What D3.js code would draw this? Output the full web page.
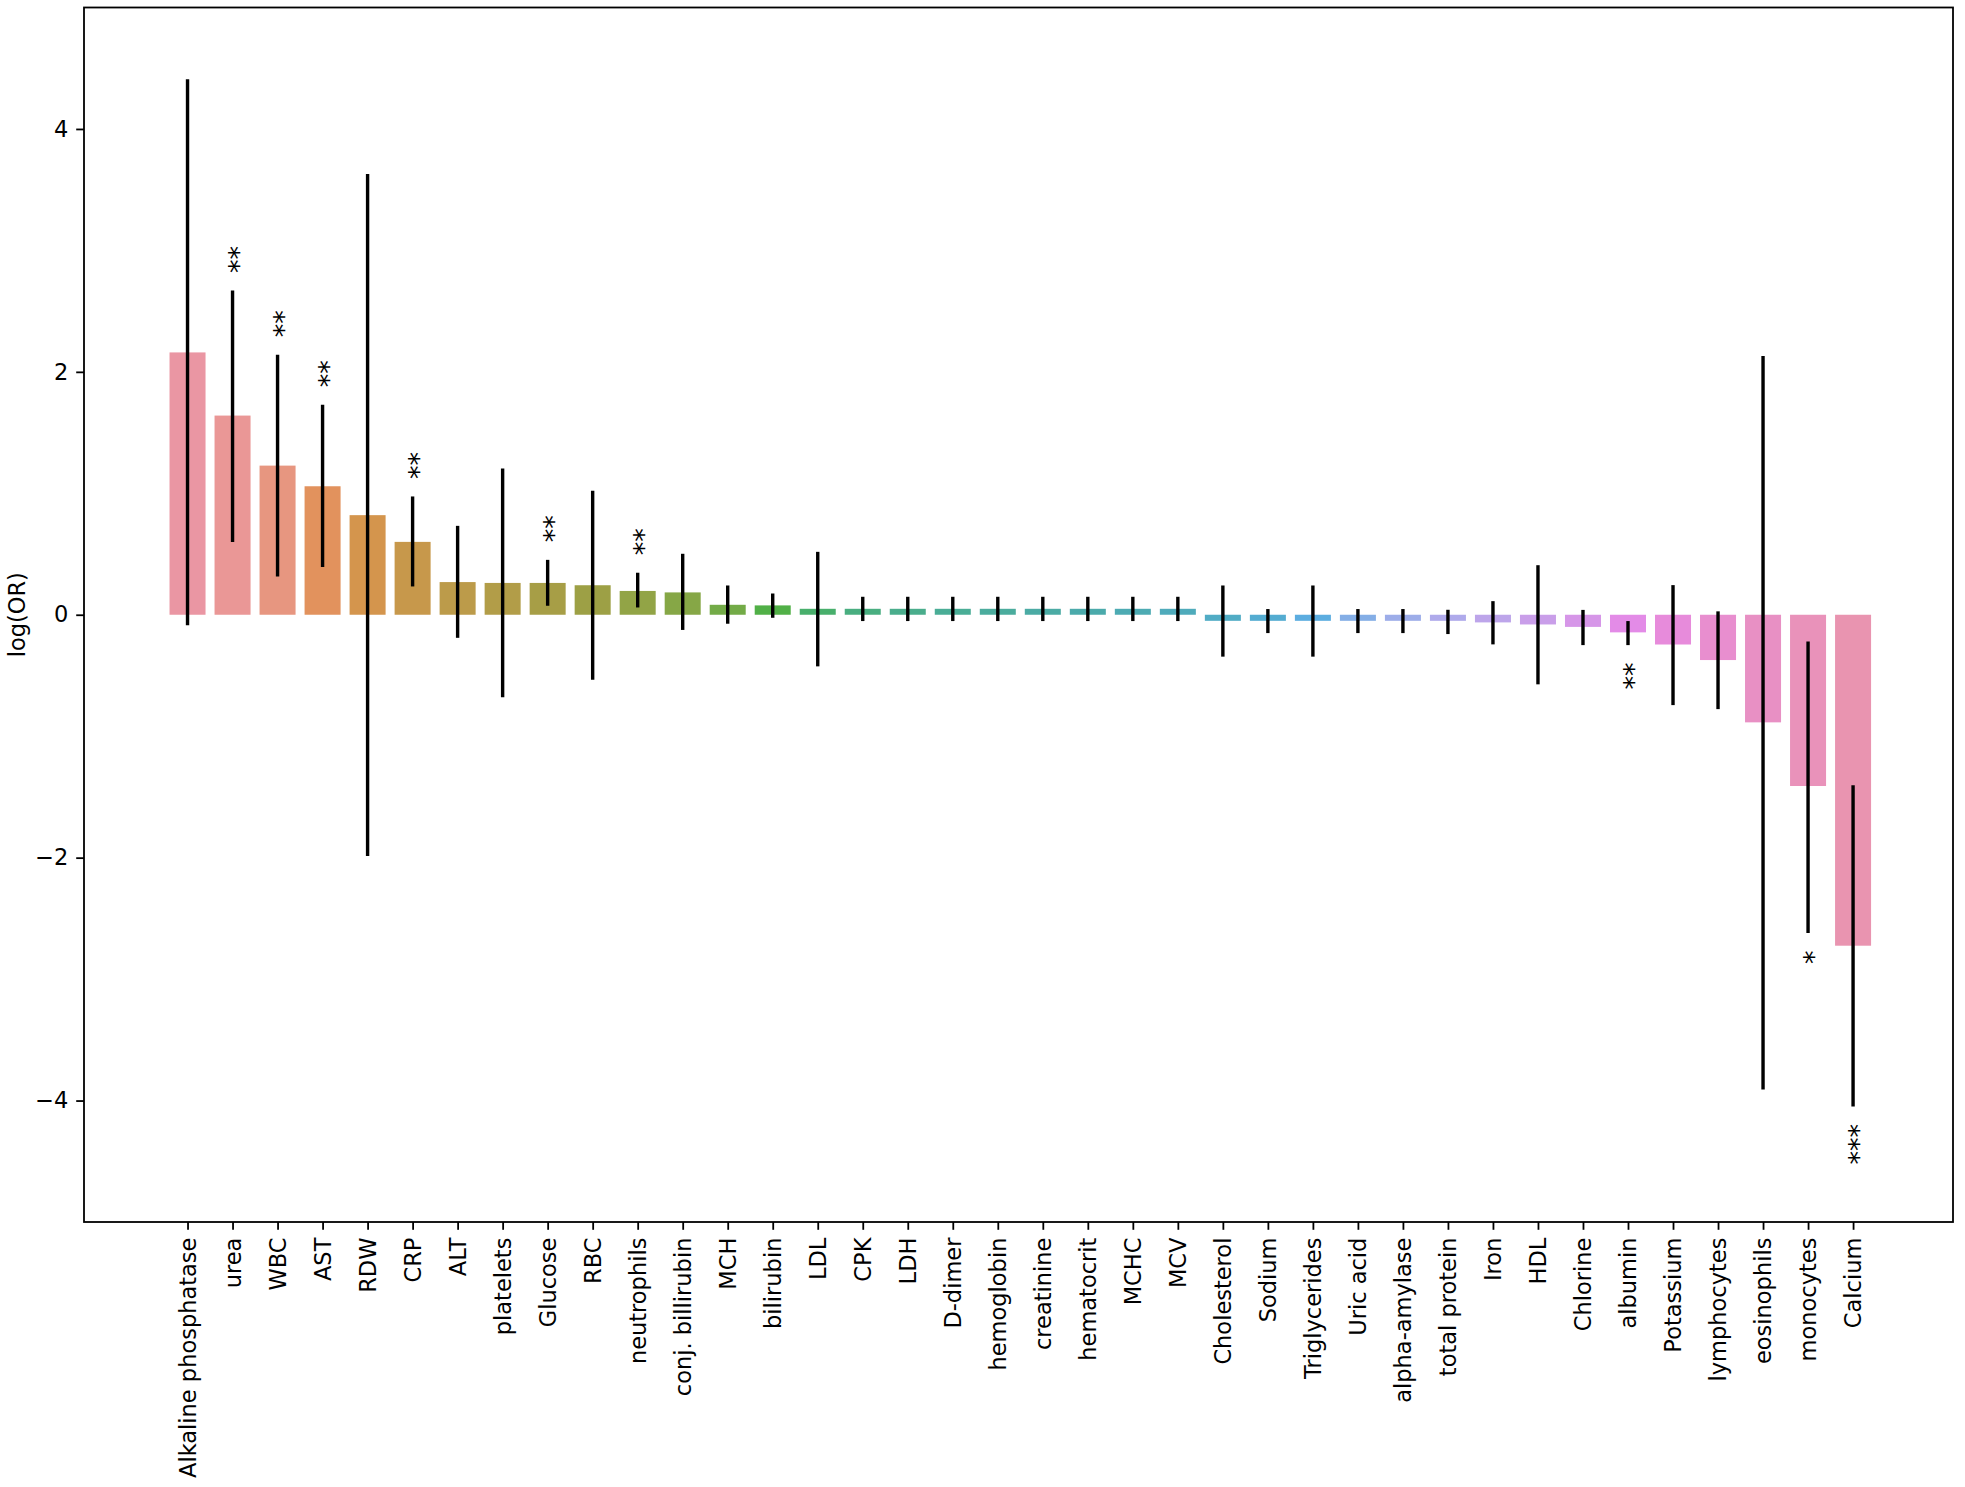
<!DOCTYPE html>
<html>
<head>
<meta charset="utf-8">
<script src="https://cdn.jsdelivr.net/npm/d3@7"></script>
<style>
  body { margin: 0; background: #ffffff; }
  svg { display: block; font-family: "DejaVu Sans", sans-serif; }
</style>
</head>
<body>
<div id="chart"></div>
<script>
// labels, in plotted order
const categories = [
  "Alkaline phosphatase", "urea", "WBC", "AST", "RDW", "CRP", "ALT", "platelets",
  "Glucose", "RBC", "neutrophils", "conj. billirubin", "MCH", "bilirubin", "LDL",
  "CPK", "LDH", "D-dimer", "hemoglobin", "creatinine", "hematocrit", "MCHC", "MCV",
  "Cholesterol", "Sodium", "Triglycerides", "Uric acid", "alpha-amylase",
  "total protein", "Iron", "HDL", "Chlorine", "albumin", "Potassium",
  "lymphocytes", "eosinophils", "monocytes", "Calcium"
];

// log(OR) per category
const logOR = [
  2.16, 1.64, 1.228, 1.058, 0.82, 0.60, 0.269, 0.262,
  0.262, 0.243, 0.196, 0.184, 0.082, 0.077, 0.049,
  0.049, 0.049, 0.049, 0.049, 0.049, 0.049, 0.049, 0.049,
  -0.05, -0.05, -0.05, -0.05, -0.05,
  -0.05, -0.063, -0.08, -0.10, -0.145, -0.245,
  -0.373, -0.886, -1.41, -2.725
];

// confidence interval bounds
const ciLow = [
  -0.087, 0.60, 0.315, 0.394, -1.987, 0.233, -0.19, -0.68,
  0.074, -0.535, 0.06, -0.125, -0.074, -0.025, -0.425,
  -0.052, -0.052, -0.052, -0.052, -0.052, -0.052, -0.052, -0.052,
  -0.345, -0.151, -0.345, -0.151, -0.151,
  -0.159, -0.244, -0.573, -0.25, -0.25, -0.744,
  -0.777, -3.91, -2.62, -4.05
];
const ciHigh = [
  4.41, 2.67, 2.14, 1.73, 3.63, 0.974, 0.732, 1.205,
  0.452, 1.022, 0.346, 0.502, 0.241, 0.175, 0.518,
  0.148, 0.148, 0.148, 0.148, 0.148, 0.148, 0.148, 0.148,
  0.241, 0.047, 0.241, 0.047, 0.047,
  0.041, 0.112, 0.408, 0.04, -0.052, 0.244,
  0.028, 2.13, -0.22, -1.404
];

// significance marks
const stars = [
  "", "**", "**", "**", "", "**", "", "",
  "**", "", "**", "", "", "", "",
  "", "", "", "", "", "", "", "",
  "", "", "", "", "",
  "", "", "", "", "**", "",
  "", "", "*", "***"
];

const yTicks = [-4, -2, 0, 2, 4];

// ---- husl palette (seaborn style: l=.7, then desaturated to .75) ----
const M = [[3.2406, -1.5372, -0.4986], [-0.9689, 1.8758, 0.0415], [0.0557, -0.2040, 1.0570]];
const refU = 0.19784, refV = 0.46834, labE = 0.008856, labK = 903.3;

function maxChroma(L, H) {
  const hrad = H / 180 * Math.PI;
  const sinH = Math.sin(hrad), cosH = Math.cos(hrad);
  const sub1 = Math.pow(L + 16, 3) / 1560896;
  const sub2 = sub1 > labE ? sub1 : L / labK;
  let result = Infinity;
  M.forEach(([m1, m2, m3]) => {
    const tp = (0.99915 * m1 + 1.05122 * m2 + 1.14460 * m3) * sub2;
    const rb = 0.86330 * m3 - 0.17266 * m2;
    const lb = 0.12949 * m3 - 0.38848 * m1;
    const bt = (rb * sinH + lb * cosH) * sub2;
    [0, 1].forEach(t => {
      const C = L * (tp - 1.05122 * t) / (bt + 0.17266 * sinH * t);
      if (C > 0 && C < result) result = C;
    });
  });
  return result;
}

function huslToRgb(H, S, L) {
  const C = maxChroma(L, H) / 100 * S;
  const hrad = H / 180 * Math.PI;
  const U = C * Math.cos(hrad), V = C * Math.sin(hrad);
  const t = (L + 16) / 116;
  const varY = Math.pow(t, 3) > labE ? Math.pow(t, 3) : (116 * t - 16) / labK;
  const varU = U / (13 * L) + refU;
  const varV = V / (13 * L) + refV;
  const Y = varY;
  const X = -(9 * Y * varU) / ((varU - 4) * varV - varU * varV);
  const Z = (9 * Y - 15 * varV * Y - varV * X) / (3 * varV);
  const rgb = M.map(r => {
    const c = r[0] * X + r[1] * Y + r[2] * Z;
    const v = c <= 0.0031308 ? 12.92 * c : 1.055 * Math.pow(c, 1 / 2.4) - 0.055;
    return Math.max(0, Math.min(1, v)) * 255;
  });
  return d3.rgb(rgb[0], rgb[1], rgb[2]);
}

const n = categories.length;
const palette = d3.range(n).map(i => {
  const h = ((i / n + 0.01) % 1) * 359;
  const c = d3.hsl(huslToRgb(h, 0.9 * 99, 0.7 * 99));
  c.s *= 0.75;
  return c.formatHex();
});

// ---- layout ----
const width = 1965, height = 1487;
const axLeft = 84, axRight = 1953, axTop = 7.5, axBottom = 1222;
const fontSize = 22.5;
const starSize = 27;
const tickLen = 7.8;

const svg = d3.select('#chart').append('svg')
  .attr('width', width)
  .attr('height', height);

svg.append('rect').attr('width', width).attr('height', height).attr('fill', '#ffffff');

const x = d3.scaleLinear()
  .domain([-2.3, n - 1 + 2.22])
  .range([axLeft, axRight]);

const y = d3.scaleLinear()
  .domain([-5, 5])
  .range([axBottom, axTop]);

const barW = x(0.8) - x(0);

// bars
svg.append('g')
  .selectAll('rect')
  .data(logOR)
  .join('rect')
  .attr('x', (d, i) => x(i) - barW / 2)
  .attr('width', barW)
  .attr('y', d => y(Math.max(0, d)))
  .attr('height', d => Math.abs(y(d) - y(0)))
  .attr('fill', (d, i) => palette[i]);

// error bars
svg.append('g')
  .selectAll('line')
  .data(logOR)
  .join('line')
  .attr('x1', (d, i) => x(i))
  .attr('x2', (d, i) => x(i))
  .attr('y1', (d, i) => y(ciLow[i]))
  .attr('y2', (d, i) => y(ciHigh[i]))
  .attr('stroke', '#000000')
  .attr('stroke-width', 3.4);

// significance marks, written vertically
const gap = 17.5;
svg.append('g')
  .selectAll('text')
  .data(stars.map((s, i) => ({ s, i })).filter(d => d.s))
  .join('text')
  .attr('transform', d => {
    const yy = logOR[d.i] > 0 ? y(ciHigh[d.i]) - gap : y(ciLow[d.i]) + gap;
    return `translate(${x(d.i)},${yy}) rotate(-90)`;
  })
  .attr('text-anchor', d => logOR[d.i] > 0 ? 'start' : 'end')
  .attr('dy', '0.57em')
  .style('font-size', starSize + 'px')
  .attr('fill', '#000000')
  .text(d => d.s);

// frame
svg.append('rect')
  .attr('x', axLeft).attr('y', axTop)
  .attr('width', axRight - axLeft).attr('height', axBottom - axTop)
  .attr('fill', 'none')
  .attr('stroke', '#000000')
  .attr('stroke-width', 1.8);

// y axis
const yAxis = svg.append('g')
  .attr('transform', `translate(${axLeft},0)`)
  .call(d3.axisLeft(y)
    .tickValues(yTicks)
    .tickSize(tickLen)
    .tickPadding(7.8)
    .tickFormat(d => d < 0 ? '\u2212' + Math.abs(d) : String(d)));
yAxis.select('.domain').remove();
yAxis.selectAll('line').attr('stroke-width', 1.8);
yAxis.selectAll('text')
  .style('font-size', fontSize + 'px')
  .style('font-family', '"DejaVu Sans", sans-serif')
  .attr('fill', '#000000');

// x axis
const xAxis = svg.append('g')
  .attr('transform', `translate(0,${axBottom})`)
  .call(d3.axisBottom(x)
    .tickValues(d3.range(n))
    .tickSize(tickLen)
    .tickFormat(i => categories[i]));
xAxis.select('.domain').remove();
xAxis.selectAll('line').attr('stroke-width', 1.8);
xAxis.selectAll('text')
  .attr('y', 0)
  .attr('dy', '0.35em')
  .attr('transform', `translate(0,${tickLen * 2}) rotate(-90)`)
  .attr('text-anchor', 'end')
  .style('font-size', fontSize + 'px')
  .style('font-family', '"DejaVu Sans", sans-serif')
  .attr('fill', '#000000');

// y label
svg.append('text')
  .attr('transform', `translate(17,${(axTop + axBottom) / 2}) rotate(-90)`)
  .attr('text-anchor', 'middle')
  .attr('dy', '0.35em')
  .style('font-size', fontSize + 'px')
  .attr('fill', '#000000')
  .text('log(OR)');
</script>
</body>
</html>
